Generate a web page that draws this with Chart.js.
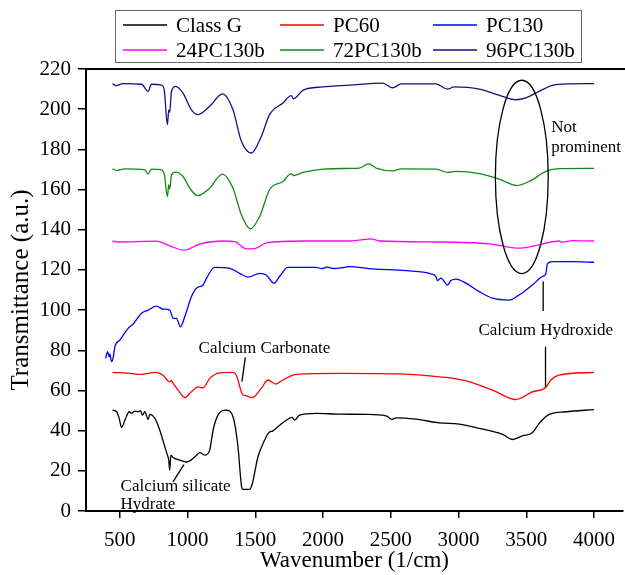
<!DOCTYPE html>
<html><head><meta charset="utf-8">
<script src="https://cdn.jsdelivr.net/npm/chart.js@4/dist/chart.umd.min.js"></script>
<style>html,body{margin:0;padding:0;background:#fff;overflow:hidden}</style>
</head><body>
<canvas id="c" width="625" height="575"></canvas>
<script>
// ---- data (wavenumber, transmittance) ----
const classG = [[446,50.2],[476,49.4],[495,46.1],[512,41.6],[537,45.2],[569,49.4],[586,48.6],[611,49.7],[635,49.4],[653,49.9],[667,47.7],[684,49.4],[709,45.6],[721,48.1],[758,46.1],[795,40.2],[832,31.9],[851,27.8],[861,25.3],[868,20.3],[876,27.8],[893,26.6],[942,25.3],[991,24.4],[1053,26.9],[1089,29.1],[1126,27.8],[1163,30.3],[1188,40.2],[1224,47.7],[1286,50.2],[1335,46.9],[1372,31.9],[1397,12.8],[1409,10.8],[1458,10.8],[1478,13.7],[1519,26.9],[1568,35.2],[1598,38.9],[1630,39.9],[1703,43.9],[1772,46.6],[1790,45.2],[1826,47.7],[1949,48.6],[2121,48.2],[2318,48.1],[2465,47.4],[2507,45.6],[2539,46.4],[2686,45.7],[2858,43.9],[3005,43.2],[3153,41.1],[3325,38.1],[3398,35.6],[3472,37.4],[3545,38.9],[3595,43.6],[3669,48.1],[3792,49.4],[4000,50.5]];
const pc60 = [[446,69],[574,68.5],[647,68],[770,69],[819,67.6],[868,64.3],[880,65],[893,63.5],[930,60.2],[979,56.5],[1028,59.3],[1077,61.8],[1114,61.3],[1163,66],[1237,68.8],[1335,69],[1360,67.6],[1404,58.2],[1434,57.3],[1478,56.5],[1544,61],[1593,65.2],[1650,63.2],[1703,65.2],[1802,68],[2121,68.5],[2613,68.1],[2858,66.8],[3055,64.8],[3251,60.2],[3423,55.5],[3545,59.3],[3644,61.5],[3681,65.2],[3742,67.6],[4000,69]];
const pc130 = [[395,76],[409,79.3],[421,76.8],[426,78.1],[439,74.3],[451,76.5],[463,81.8],[500,85.1],[561,90.9],[598,93.1],[660,98.4],[709,100],[770,102],[819,100.5],[868,100],[893,95.9],[918,95.9],[947,91.7],[979,96.7],[1028,106.7],[1065,110.9],[1114,112.5],[1139,115.8],[1200,121.3],[1311,120.8],[1384,118.3],[1445,116.4],[1532,118.3],[1581,117.5],[1637,113.4],[1679,116.7],[1740,121.3],[1949,121.3],[1990,120.6],[2030,121.4],[2080,120.7],[2150,121.2],[2195,121.6],[2367,120.5],[2613,119.6],[2797,118],[2833,116.7],[2845,114.7],[2870,115.9],[2919,112.5],[2944,114.7],[2981,115.4],[3055,113.4],[3153,109.2],[3251,105.9],[3374,105],[3447,107.5],[3545,112.5],[3619,116.7],[3644,118],[3656,123],[3693,124.1],[3840,124.1],[4000,123.8]];
const pc130b24 = [[446,134.4],[488,133.9],[770,134.3],[868,132],[974,129.8],[1089,132.8],[1261,134.4],[1347,134.1],[1434,130.5],[1495,130.6],[1581,133.5],[1851,134.4],[2195,134.4],[2268,134.8],[2355,135.4],[2416,134.4],[2858,133.9],[3226,133],[3447,130.8],[3595,132.5],[3742,134.4],[3767,133.8],[3840,134.6],[4000,134.4]];
const pc130b72 = [[446,170.3],[476,169.5],[537,170.3],[684,169.8],[709,167.7],[733,170.2],[807,169.8],[829,167.3],[851,156.5],[861,162.4],[868,160.2],[881,167.3],[913,168.7],[966,166.5],[1016,160.7],[1072,157],[1163,160.7],[1257,167.7],[1335,160.7],[1397,147.4],[1463,140.4],[1532,146.6],[1605,159.9],[1704,164],[1765,167.9],[1782,166.9],[1851,168.5],[1998,170.2],[2195,170.5],[2268,170.7],[2337,172.8],[2391,170.7],[2514,169.3],[2576,170.3],[2833,170.2],[2919,168.5],[2981,169],[3153,167.9],[3300,165.2],[3430,162],[3521,164],[3644,169],[3718,170.3],[4000,170.5]];
const pc130b96 = [[446,212.7],[471,211.7],[524,212.7],[660,212.4],[709,208.9],[733,212.4],[807,212],[827,209.7],[851,192.3],[861,199.7],[868,198.4],[881,208.9],[913,211.4],[966,208],[1028,199.7],[1077,197.3],[1163,201.4],[1257,207.6],[1335,199.7],[1397,184],[1470,178.2],[1544,186.4],[1605,197.3],[1704,203.1],[1765,206.7],[1782,205.2],[1851,209.4],[1998,211.1],[2195,212],[2440,213],[2514,210.6],[2576,212.6],[2833,212.6],[2919,210],[2968,211.1],[3153,210],[3325,206.4],[3423,204.7],[3497,205.6],[3595,208.9],[3718,212.2],[4000,212.7]];

const seriesLabels = ['Class G','PC60','PC130','24PC130b','72PC130b','96PC130b'];
const seriesData = [classG, pc60, pc130, pc130b24, pc130b72, pc130b96];
const seriesColors = ['#000000','#ff0000','#0000ff','#ff00ff','#138a13','#111188'];
const xTicks = [500,1000,1500,2000,2500,3000,3500,4000];
const yTicks = [0,20,40,60,80,100,120,140,160,180,200,220];

const FONT = "'Liberation Serif','Times New Roman',serif";

// annotations in data coordinates
const notes = [
  {text:'Calcium Carbonate', x:1081, y:81.1},
  {text:'Calcium Hydroxide', x:3147, y:89.6},
  {text:'Not', x:3684, y:190.7},
  {text:'prominent', x:3684, y:180.8},
  {text:'Calcium silicate', x:505, y:12.3},
  {text:'Hydrate', x:505, y:3.2}
];
const pointers = [
  [[1426,76.5],[1401,64.4]],
  [[3625,114.2],[3625,99.6]],
  [[3642,81.8],[3642,61.8]],
  [[973,23.1],[892,14.5]]
];
const ellipseSpec = {x:3467, y:166.3, rx:195, ry:48.1};

const extras = {
  id:'extras',
  afterDraw(chart){
    const c = chart.ctx, xs = chart.scales.x, ys = chart.scales.y, a = chart.chartArea;
    c.save();
    // top frame line
    c.strokeStyle = '#000'; c.lineWidth = 2;
    c.beginPath(); c.moveTo(a.left, a.top); c.lineTo(chart.width, a.top); c.stroke();
    // annotations
    c.fillStyle = '#000'; c.font = '17px ' + FONT; c.textBaseline = 'middle'; c.textAlign = 'left';
    notes.forEach(n => c.fillText(n.text, xs.getPixelForValue(n.x), ys.getPixelForValue(n.y)));
    c.lineWidth = 1.3;
    pointers.forEach(p => { c.beginPath(); c.moveTo(xs.getPixelForValue(p[0][0]), ys.getPixelForValue(p[0][1])); c.lineTo(xs.getPixelForValue(p[1][0]), ys.getPixelForValue(p[1][1])); c.stroke(); });
    const cx = xs.getPixelForValue(ellipseSpec.x), cy = ys.getPixelForValue(ellipseSpec.y);
    const rx = Math.abs(xs.getPixelForValue(ellipseSpec.x + ellipseSpec.rx) - cx);
    const ry = Math.abs(ys.getPixelForValue(ellipseSpec.y + ellipseSpec.ry) - cy);
    c.beginPath(); c.ellipse(cx, cy, rx, ry, 0, 0, Math.PI*2); c.stroke();
    // legend box
    const cols = [123, 280, 433], rows = [25, 50];
    c.strokeStyle = '#666'; c.lineWidth = 1;
    c.strokeRect(115.5, 10.5, 466, 52);
    c.font = '21px ' + FONT;
    chart.data.datasets.forEach((d, i) => {
      const lx = cols[i % 3], ly = rows[Math.floor(i / 3)];
      c.strokeStyle = d.borderColor; c.lineWidth = 1.5;
      c.beginPath(); c.moveTo(lx, ly); c.lineTo(lx + 44, ly); c.stroke();
      c.fillStyle = '#000'; c.fillText(d.label, lx + 53, ly + 1);
    });
    c.restore();
  }
};

new Chart(document.getElementById('c'), {
  type: 'line',
  data: {
    datasets: seriesData.map((s, i) => ({
      label: seriesLabels[i],
      data: s.map(p => ({x: p[0], y: p[1]})),
      borderColor: seriesColors[i],
      borderWidth: 1.3,
      pointRadius: 0,
      fill: false,
      cubicInterpolationMode: 'monotone'
    }))
  },
  options: {
    responsive: false,
    animation: false,
    layout: {padding: {top: 69, left: 0, right: 0, bottom: 0}},
    plugins: {legend: {display: false}, tooltip: {enabled: false}},
    scales: {
      x: {
        type: 'linear', min: 250, max: 4213,
        afterBuildTicks: s => { s.ticks = xTicks.map(v => ({value: v})); },
        afterFit: s => { s.height = 64; },
        grid: {drawOnChartArea: false, drawTicks: true, tickLength: 7, color: '#000', lineWidth: 1.5},
        border: {color: '#000', width: 2},
        ticks: {font: {family: FONT, size: 21}, color: '#000', padding: 10, maxRotation: 0, autoSkip: false, callback: v => String(v)},
        title: {display: true, text: 'Wavenumber (1/cm)', font: {family: FONT, size: 23}, color: '#000', padding: {top: 0, bottom: 0}}
      },
      y: {
        type: 'linear', min: 0, max: 220,
        afterBuildTicks: s => { s.ticks = yTicks.map(v => ({value: v})); },
        afterFit: s => { s.width = 86; },
        grid: {drawOnChartArea: false, drawTicks: true, tickLength: 8, color: '#000', lineWidth: 1.5},
        border: {color: '#000', width: 2},
        ticks: {font: {family: FONT, size: 21}, color: '#000', padding: 7, callback: v => String(v)},
        title: {display: true, text: 'Transmittance (a.u.)', font: {family: FONT, size: 25}, color: '#000', padding: {top: 6, bottom: 0}}
      }
    }
  },
  plugins: [extras]
});
</script>
</body></html>
